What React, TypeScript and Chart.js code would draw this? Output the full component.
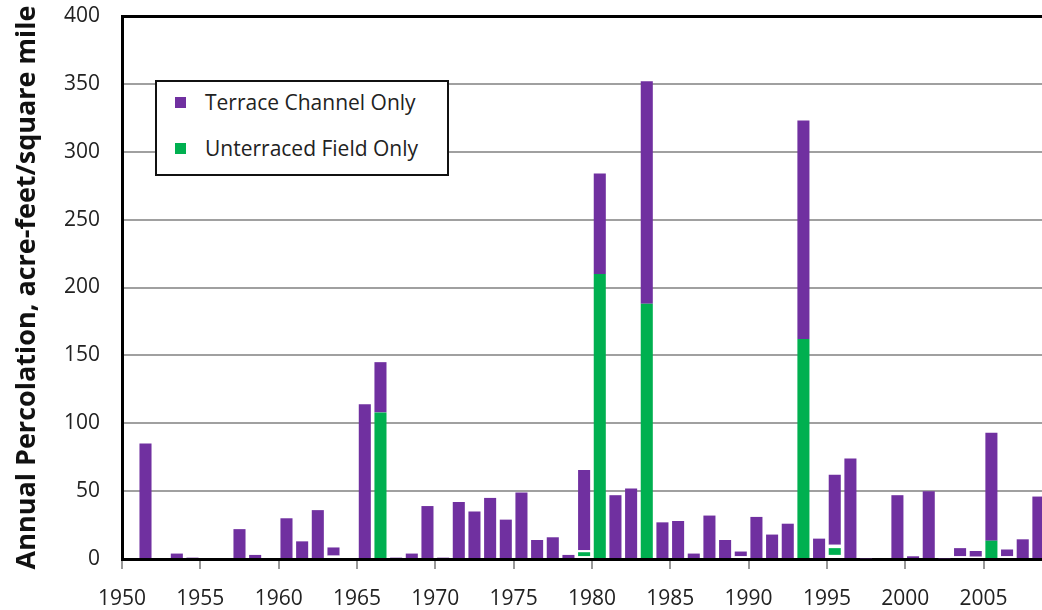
import React, { useEffect, useRef } from "react";
import { Chart, registerables } from "chart.js";

Chart.register(...registerables);

// Years 1950..2008
const years: number[] = [
  1950, 1951, 1952, 1953, 1954, 1955, 1956, 1957, 1958, 1959,
  1960, 1961, 1962, 1963, 1964, 1965, 1966, 1967, 1968, 1969,
  1970, 1971, 1972, 1973, 1974, 1975, 1976, 1977, 1978, 1979,
  1980, 1981, 1982, 1983, 1984, 1985, 1986, 1987, 1988, 1989,
  1990, 1991, 1992, 1993, 1994, 1995, 1996, 1997, 1998, 1999,
  2000, 2001, 2002, 2003, 2004, 2005, 2006, 2007, 2008,
];

// Unshown white base segment (blank space under some bars)
const blankBase: number[] = [
  0, 0, 0, 0, 0, 0, 0, 0, 0, 0,
  0, 0, 0, 2.5, 0, 0, 0, 0, 0, 0,
  0, 0, 0, 0, 0, 0, 0, 0, 0, 2,
  0, 0, 0, 0, 0, 0, 0, 0, 0, 2,
  0, 0, 0, 0, 0, 3, 0, 0, 0, 0,
  0, 0, 0, 2, 1.7, 0, 2, 0, 0,
];

// Unterraced Field Only
const unterracedField: number[] = [
  0, 0, 0, 0, 0, 0, 0, 0, 0, 0,
  0, 0, 0, 0, 0, 0, 108, 0, 0, 0,
  0, 0, 0, 0, 0, 0, 0, 0, 0, 3,
  210, 0, 0, 188, 0, 0, 0, 0, 0, 0,
  0, 0, 0, 162, 0, 5, 0, 0, 0, 0,
  0, 0, 0, 0, 0, 13.5, 0, 0, 0,
];

// Unshown white gap between the green and purple segments
const blankGap: number[] = [
  0, 0, 0, 0, 0, 0, 0, 0, 0, 0,
  0, 0, 0, 0, 0, 0, 0, 0, 0, 0,
  0, 0, 0, 0, 0, 0, 0, 0, 0, 1.5,
  0, 0, 0, 0, 0, 0, 0, 0, 0, 0,
  0, 0, 0, 0, 0, 2.5, 0, 0, 0, 0,
  0, 0, 0, 0, 0, 0, 0, 0, 0,
];

// Terrace Channel Only
const terraceChannel: number[] = [
  0, 85, 0, 4, 1, 0, 0, 22, 3, 0,
  30, 13, 36, 6, 0, 114, 37, 1, 4, 39,
  1, 42, 35, 45, 29, 49, 14, 16, 3, 59,
  74, 47, 52, 164, 27, 28, 4, 32, 14, 3.5,
  31, 18, 26, 161, 15, 51.5, 74, 0.5, 0, 47,
  2, 50, 0.5, 6, 4.2, 79.5, 5, 14.5, 46,
];

const yTicks: number[] = [0, 50, 100, 150, 200, 250, 300, 350, 400];

const PURPLE = "#7030A0";
const GREEN = "#00B050";
const FONT = "'Open Sans', 'Noto Sans', sans-serif";

const legendItems = [
  { label: "Terrace Channel Only", color: PURPLE },
  { label: "Unterraced Field Only", color: GREEN },
];

const toPoints = (vals: number[]) => years.map((yr, i) => ({ x: yr + 0.5, y: vals[i] }));

export default function App() {
  const ref = useRef<HTMLCanvasElement | null>(null);

  useEffect(() => {
    if (!ref.current) return;
    const common = { barPercentage: 0.77, categoryPercentage: 1.0, borderWidth: 0 };
    const chart = new Chart(ref.current, {
      type: "bar",
      data: {
        datasets: [
          { label: "base", data: toPoints(blankBase), backgroundColor: "#ffffff", ...common },
          { label: "Unterraced Field Only", data: toPoints(unterracedField), backgroundColor: GREEN, ...common },
          { label: "gap", data: toPoints(blankGap), backgroundColor: "#ffffff", ...common },
          { label: "Terrace Channel Only", data: toPoints(terraceChannel), backgroundColor: PURPLE, ...common },
        ],
      } as any,
      options: {
        animation: false,
        responsive: false,
        layout: { padding: { top: 16, right: 0, bottom: 0, left: 0 } },
        plugins: {
          legend: { display: false },
          tooltip: { enabled: false },
        },
        scales: {
          x: {
            type: "linear",
            stacked: true,
            offset: false,
            min: 1950,
            max: 2008.73,
            z: 1,
            afterFit: (s: any) => {
              s.height = 51;
              s.paddingLeft = 0;
              s.paddingRight = 0;
            },
            ticks: {
              stepSize: 5,
              includeBounds: false,
              color: "#222",
              font: { family: FONT, size: 21 },
              padding: 17,
              maxRotation: 0,
              callback: (v: any) => String(v),
            },
            grid: {
              offset: false,
              drawOnChartArea: false,
              drawTicks: true,
              tickLength: 10,
              color: "#999",
              lineWidth: 2,
            },
            border: { color: "#000", width: 3 },
          },
          y: {
            stacked: true,
            min: 0,
            max: 400,
            afterFit: (s: any) => {
              s.width = 122;
              s.paddingTop = 0;
              s.paddingBottom = 0;
            },
            afterBuildTicks: (s: any) => {
              s.ticks = yTicks.map((v) => ({ value: v }));
            },
            ticks: {
              color: "#222",
              font: { family: FONT, size: 21 },
              padding: 22,
            },
            grid: {
              drawTicks: false,
              color: (c: any) => (c.tick && c.tick.value === 400 ? "#000" : "#A0A0A0"),
              lineWidth: (c: any) => (c.tick && c.tick.value === 400 ? 3 : 2),
            },
            border: { color: "#000", width: 3 },
            title: {
              display: true,
              text: "Annual Percolation, acre-feet/square mile",
              color: "#111",
              font: { family: FONT, size: 27, weight: "bold" },
              padding: { top: 11, bottom: 0 },
            },
          },
        },
      } as any,
    });
    return () => chart.destroy();
  }, []);

  return (
    <div style={{ position: "absolute", left: 0, top: 0, width: 1042, height: 610, background: "#fff" }}>
      <canvas ref={ref} width={1042} height={610} style={{ width: 1042, height: 610, display: "block" }} />
      <div
        style={{
          position: "absolute",
          left: 155,
          top: 80,
          width: 294,
          height: 96,
          boxSizing: "border-box",
          border: "2px solid #111",
          background: "#fff",
          fontFamily: FONT,
          fontSize: 21,
          color: "#222",
        }}
      >
        {legendItems.map((it, i) => (
          <div
            key={it.label}
            style={{
              position: "absolute",
              left: 18,
              top: 5 + i * 46,
              height: 30,
              display: "flex",
              alignItems: "center",
              whiteSpace: "nowrap",
            }}
          >
            <span style={{ display: "inline-block", width: 11, height: 11, background: it.color, marginRight: 19 }} />
            <span>{it.label}</span>
          </div>
        ))}
      </div>
    </div>
  );
}
